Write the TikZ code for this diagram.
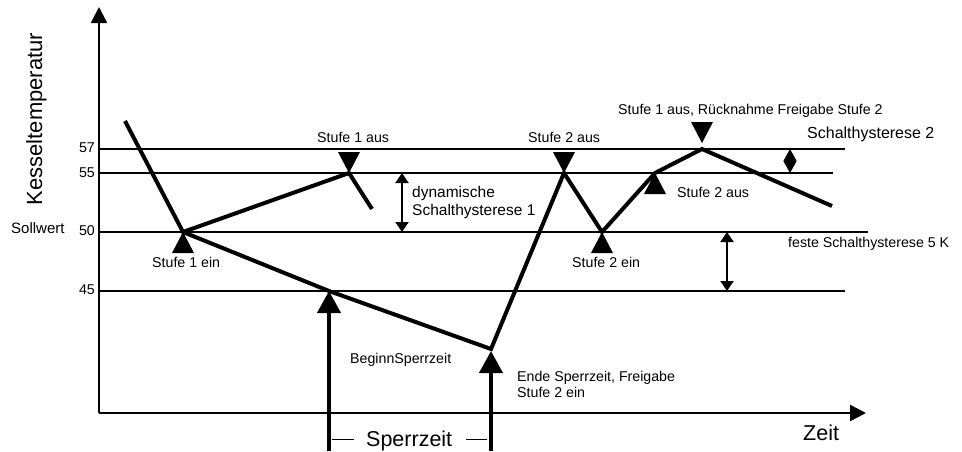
\documentclass[tikz,border=0pt]{standalone}
\usepackage{fontspec}
\setmainfont{Liberation Sans}
\usetikzlibrary{arrows.meta,positioning}

\begin{document}
\begin{tikzpicture}[x=1pt, y=-1pt,
  lvl/.style={line width=2pt},
  curve/.style={line width=4pt},
  axis/.style={line width=2.5pt, -{Triangle[length=16pt,width=16pt]}},
  sperr/.style={line width=4pt, -{Triangle[length=22pt,width=23pt]}},
  hyst/.style={line width=2pt, {Triangle[length=10pt,width=13pt]}-{Triangle[length=10pt,width=13pt]}},
  lbl/.style={font=\fontsize{14.2}{16}\selectfont, inner sep=0pt, anchor=base west},
  midlbl/.style={font=\fontsize{15.5}{18}\selectfont, inner sep=0pt, anchor=base west},
  biglbl/.style={font=\fontsize{21.5}{24}\selectfont, inner sep=0pt}]
\useasboundingbox (0,0) rectangle (962,451);

% axes
\coordinate (o) at (99,413);
\coordinate (ytip) at (99,7);
\coordinate (xtip) at (866,413);
\draw[axis] (o) -- (ytip);
\draw[axis] (o) -- (xtip);
\node[biglbl, font=\fontsize{22}{24}\selectfont, rotate=90] (ylab) at (36.5,119) {Kesseltemperatur};
\node[biglbl, anchor=base west] (xlab) at (803,440) {Zeit};

% temperature levels
\coordinate (l57a) at (99,149);  \coordinate (l57b) at (845,149);
\coordinate (l55a) at (99,173);  \coordinate (l55b) at (833,173);
\coordinate (l50a) at (99,232);  \coordinate (l50b) at (868,232);
\coordinate (l45a) at (99,291);  \coordinate (l45b) at (845,291);
\draw[lvl] (l57a) -- (l57b);
\draw[lvl] (l55a) -- (l55b);
\draw[lvl] (l50a) -- (l50b);
\draw[lvl] (l45a) -- (l45b);
\node[lbl, anchor=base east] (t57) at (95,152) {57};
\node[lbl, anchor=base east] (t55) at (95,177) {55};
\node[lbl, anchor=base east] (t50) at (95,235) {50};
\node[lbl, anchor=base east] (t45) at (95,294) {45};
\node[midlbl, font=\fontsize{15}{18}\selectfont] (soll) at (11,233) {Sollwert};

% temperature curve
\coordinate (c0) at (125,121);
\coordinate (s1ein) at (183,232);
\coordinate (s1aus) at (349,173);
\coordinate (c1) at (372,209);
\coordinate (bsp) at (329,291);
\coordinate (esp) at (491,349);
\coordinate (s2aus) at (564,173);
\coordinate (s2ein) at (602,232);
\coordinate (s2ausb) at (655,173);
\coordinate (peak) at (702,149);
\coordinate (c2) at (832,206);
\draw[curve] (c0) -- (s1ein) -- (s1aus) -- (c1);
\draw[curve] (s1ein) -- (bsp) -- (esp) -- (s2aus) -- (s2ein) -- (s2ausb) -- (peak) -- (c2);

% switching marks
\fill (s1ein) -- ++(-11,21) -- ++(22,0) -- cycle;
\fill (s2ein) -- ++(-11,21) -- ++(22,0) -- cycle;
\fill (s2ausb) -- ++(-11,21) -- ++(22,0) -- cycle;
\fill (s1aus) -- ++(-11,-21) -- ++(22,0) -- cycle;
\fill (s2aus) -- ++(-11,-21) -- ++(22,0) -- cycle;
\fill ([yshift=6pt]peak) -- ++(-11,-21) -- ++(22,0) -- cycle;

\node[lbl] (s1einlbl) at (152,267) {Stufe 1 ein};
\node[lbl] (s1auslbl) at (317,142) {Stufe 1 aus};
\node[lbl] (s2auslbl) at (528,142) {Stufe 2 aus};
\node[lbl] (s2einlbl) at (572,267) {Stufe 2 ein};
\node[lbl] (s2ausblbl) at (677,197) {Stufe 2 aus};
\node[lbl] (rueck) at (618,114) {Stufe 1 aus, R\"ucknahme Freigabe Stufe 2};

% hysteresis
\coordinate (dyn1) at (402,173); \coordinate (dyn2) at (402,232);
\coordinate (fest1) at (727,232); \coordinate (fest2) at (727,291);
\coordinate (hy1) at (790,149); \coordinate (hy2) at (790,173);
\draw[hyst] (dyn1) -- (dyn2);
\draw[hyst] (fest1) -- (fest2);
\draw[line width=1pt, {Triangle[length=12pt,width=13pt]}-{Triangle[length=12pt,width=13pt]}] (hy1) -- (hy2);
\node[midlbl] (dynlbl) at (412,197) {dynamische};
\node[midlbl] (dynlbl2) at (412,215) {Schalthysterese 1};
\node[lbl] (festlbl) at (788,247) {feste Schalthysterese 5 K};
\node[midlbl, font=\fontsize{16}{18}\selectfont] (hy2lbl) at (807,138) {Schalthysterese 2};

% Sperrzeit
\coordinate (bspfoot) at (329,451);
\coordinate (espfoot) at (491,451);
\draw[sperr] (bspfoot) -- (bsp);
\draw[sperr] (espfoot) -- ([yshift=-2pt]esp);
\node[lbl] (beginn) at (350,363) {BeginnSperrzeit};
\node[lbl, anchor=north west, align=left] (ende) at (517,371) {Ende Sperrzeit, Freigabe\\Stufe 2 ein};
\node[biglbl, anchor=base west] (sperrlbl) at (366,446) {Sperrzeit};
\draw[line width=0.8pt] ([xshift=-12pt,yshift=7pt]sperrlbl.base west) -- ++(-22,0);
\draw[line width=0.8pt] ([xshift=14pt,yshift=7pt]sperrlbl.base east) -- ++(21,0);
\end{tikzpicture}
\end{document}
